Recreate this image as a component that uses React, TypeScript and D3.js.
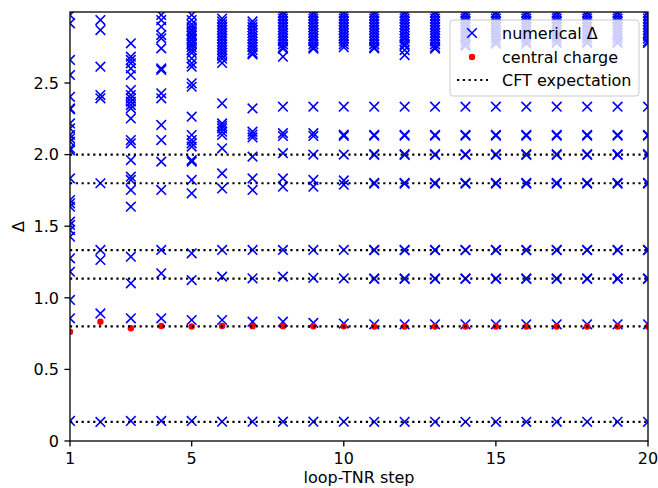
import React from "react";
import * as d3 from "d3";

// loop-TNR steps
const steps = [1, 2, 3, 4, 5, 6, 7, 8, 9, 10, 11, 12, 13, 14, 15, 16, 17, 18, 19, 20];

// numerical scaling dimensions for each step
const deltaStep1 = [2.975, 2.917, 2.661, 2.556, 2.404, 2.323, 2.316, 2.218, 2.183, 2.137, 2.114, 2.09, 2.044, 2.03, 1.834, 1.683, 1.66, 1.636, 1.532, 1.509, 1.473, 1.427, 1.276, 1.182, 0.985, 0.857, 0.14];
const deltaStep2 = [2.94, 2.87, 2.614, 2.416, 2.393, 1.80, 1.334, 1.264, 0.891, 0.133];
const deltaStep3 = [2.777, 2.684, 2.661, 2.638, 2.602, 2.556, 2.451, 2.416, 2.393, 2.37, 2.346, 2.323, 2.253, 2.102, 2.079, 1.962, 1.846, 1.823, 1.753, 1.636, 1.287, 1.101, 0.857, 0.14];
const deltaStep4 = [2.975, 2.94, 2.893, 2.835, 2.812, 2.742, 2.602, 2.591, 2.428, 2.393, 2.207, 2.102, 1.951, 1.753, 1.334, 1.171, 0.857, 0.14];
const deltaStep5 = [2.975, 2.94, 2.91, 2.89, 2.87, 2.86, 2.84, 2.83, 2.81, 2.8, 2.78, 2.77, 2.75, 2.73, 2.71, 2.672, 2.638, 2.614, 2.498, 2.474, 2.265, 2.137, 2.102, 2.079, 2.056, 1.962, 1.951, 1.823, 1.73, 1.311, 1.124, 0.845, 0.14];
const deltaStep6 = [2.95, 2.93, 2.91, 2.89, 2.87, 2.85, 2.83, 2.81, 2.79, 2.77, 2.75, 2.73, 2.71, 2.69, 2.67, 2.64, 2.358, 2.218, 2.2, 2.183, 2.16, 2.137, 2.044, 1.869, 1.764, 1.334, 1.148, 0.845, 0.135];
const deltaStep7 = [2.93, 2.91, 2.89, 2.87, 2.85, 2.83, 2.81, 2.79, 2.77, 2.75, 2.73, 2.71, 2.7, 2.323, 2.16, 2.14, 2.12, 1.986, 1.834, 1.753, 1.334, 1.136, 0.833, 0.135];
const deltaStep8 = [2.99, 2.97, 2.95, 2.93, 2.91, 2.89, 2.87, 2.85, 2.83, 2.81, 2.79, 2.77, 2.75, 2.74, 2.684, 2.335, 2.15, 2.13, 2.01, 1.834, 1.776, 1.334, 1.148, 0.833, 0.135];
const deltaStep9 = [2.99, 2.97, 2.95, 2.93, 2.91, 2.89, 2.87, 2.85, 2.83, 2.81, 2.79, 2.77, 2.75, 2.74, 2.335, 2.15, 2.13, 2.0, 1.823, 1.776, 1.334, 1.14, 0.825, 0.135];
const deltaStep10 = [2.99, 2.97, 2.95, 2.93, 2.91, 2.89, 2.87, 2.85, 2.83, 2.81, 2.79, 2.77, 2.75, 2.335, 2.14, 2.13, 2.0, 1.82, 1.79, 1.334, 1.136, 0.82, 0.135];
const deltaStep11 = [2.99, 2.97, 2.95, 2.93, 2.91, 2.89, 2.87, 2.85, 2.83, 2.81, 2.79, 2.77, 2.75, 2.742, 2.335, 2.138, 2.132, 2.003, 1.998, 1.803, 1.797, 1.334, 1.333, 1.135, 1.132, 0.815, 0.134];
const deltaStep12 = [2.99, 2.97, 2.95, 2.93, 2.91, 2.89, 2.87, 2.85, 2.83, 2.81, 2.79, 2.77, 2.76, 2.73, 2.695, 2.335, 2.138, 2.132, 2.003, 1.998, 1.803, 1.797, 1.334, 1.333, 1.135, 1.132, 0.815, 0.134];
const deltaStep13 = [2.99, 2.97, 2.95, 2.93, 2.91, 2.89, 2.87, 2.85, 2.83, 2.81, 2.79, 2.77, 2.75, 2.74, 2.335, 2.138, 2.132, 2.003, 1.998, 1.803, 1.797, 1.334, 1.333, 1.135, 1.132, 0.815, 0.134];
const deltaStep14 = [2.99, 2.97, 2.95, 2.93, 2.91, 2.89, 2.87, 2.85, 2.83, 2.81, 2.79, 2.77, 2.76, 2.335, 2.138, 2.132, 2.003, 1.998, 1.803, 1.797, 1.334, 1.333, 1.135, 1.132, 0.815, 0.134];
const deltaStep15 = [2.99, 2.97, 2.95, 2.93, 2.91, 2.89, 2.87, 2.85, 2.83, 2.81, 2.79, 2.775, 2.335, 2.138, 2.132, 2.003, 1.998, 1.803, 1.797, 1.334, 1.333, 1.135, 1.132, 0.815, 0.134];
const deltaStep16 = [2.99, 2.97, 2.95, 2.93, 2.91, 2.89, 2.87, 2.85, 2.83, 2.81, 2.79, 2.775, 2.335, 2.138, 2.132, 2.003, 1.998, 1.803, 1.797, 1.334, 1.333, 1.135, 1.132, 0.815, 0.134];
const deltaStep17 = [2.99, 2.97, 2.95, 2.93, 2.91, 2.89, 2.87, 2.85, 2.83, 2.81, 2.79, 2.78, 2.335, 2.138, 2.132, 2.003, 1.998, 1.803, 1.797, 1.334, 1.333, 1.135, 1.132, 0.815, 0.134];
const deltaStep18 = [2.99, 2.97, 2.95, 2.93, 2.91, 2.89, 2.87, 2.85, 2.83, 2.81, 2.79, 2.78, 2.335, 2.138, 2.132, 2.003, 1.998, 1.803, 1.797, 1.334, 1.333, 1.135, 1.132, 0.815, 0.134];
const deltaStep19 = [2.99, 2.97, 2.95, 2.93, 2.91, 2.89, 2.87, 2.85, 2.83, 2.81, 2.79, 2.78, 2.335, 2.138, 2.132, 2.003, 1.998, 1.803, 1.797, 1.334, 1.333, 1.135, 1.132, 0.815, 0.134];
const deltaStep20 = [2.99, 2.97, 2.95, 2.93, 2.91, 2.89, 2.87, 2.85, 2.83, 2.81, 2.79, 2.78, 2.335, 2.138, 2.132, 2.003, 1.998, 1.803, 1.797, 1.334, 1.333, 1.135, 1.132, 0.815, 0.134];

const numericalDelta = [
  deltaStep1, deltaStep2, deltaStep3, deltaStep4, deltaStep5,
  deltaStep6, deltaStep7, deltaStep8, deltaStep9, deltaStep10,
  deltaStep11, deltaStep12, deltaStep13, deltaStep14, deltaStep15,
  deltaStep16, deltaStep17, deltaStep18, deltaStep19, deltaStep20,
];

// central charge at each step
const centralCharge = [0.763, 0.833, 0.787, 0.803, 0.8, 0.803, 0.802, 0.802, 0.801, 0.801, 0.8, 0.8, 0.8, 0.8, 0.8, 0.8, 0.8, 0.8, 0.8, 0.8];

// CFT expectation lines
const cftExpectation = [2 / 15, 0.8, 17 / 15, 4 / 3, 1.8, 2.0];

const xTicks = [1, 5, 10, 15, 20];
const yTicks = [0, 0.5, 1.0, 1.5, 2.0, 2.5];

const W = 658;
const H = 488;
const L = 70, R = 648, T = 12, B = 441;
const FONT = "'DejaVu Sans', sans-serif";
const FS = 16;

export default function App() {
  const x = d3.scaleLinear().domain([1, 20]).range([L, R]);
  const y = d3.scaleLinear().domain([0, 2.996]).range([B, T]);
  const s = 4.8;

  const cross = (cx: number, cy: number, key: string) => (
    <path key={key} d={`M${cx - s},${cy - s}L${cx + s},${cy + s}M${cx - s},${cy + s}L${cx + s},${cy - s}`} stroke="#0000ff" strokeWidth={1.6} fill="none" />
  );

  return (
    <svg width={W} height={H} style={{ position: "absolute", left: 0, top: 0, background: "#fff" }} fontFamily={FONT}>
      <defs>
        <clipPath id="plotclip">
          <rect x={L} y={T} width={R - L} height={B - T} />
        </clipPath>
      </defs>
      <rect x={0} y={0} width={W} height={H} fill="#fff" />
      <g clipPath="url(#plotclip)">
        {numericalDelta.map((vals, i) =>
          vals.map((v, j) => cross(x(steps[i]), y(v), `d${i}-${j}`))
        )}
        {centralCharge.map((c, i) => (
          <circle key={`c${i}`} cx={x(steps[i])} cy={y(c)} r={3.2} fill="#ff0000" />
        ))}
        {cftExpectation.map((v, i) => (
          <line key={`l${i}`} x1={L} x2={R} y1={y(v)} y2={y(v)} stroke="#000" strokeWidth={2.2} strokeDasharray="2.2,3.6" />
        ))}
      </g>
      {/* spines */}
      <rect x={L} y={T} width={R - L} height={B - T} fill="none" stroke="#000" strokeWidth={1.3} />
      {/* x ticks */}
      {xTicks.map((t) => (
        <g key={`xt${t}`}>
          <line x1={x(t)} x2={x(t)} y1={B} y2={B + 5.6} stroke="#000" strokeWidth={1.3} />
          <text x={x(t)} y={B + 23} textAnchor="middle" fontSize={FS} fill="#000">{t}</text>
        </g>
      ))}
      {yTicks.map((t) => (
        <g key={`yt${t}`}>
          <line x1={L - 5.6} x2={L} y1={y(t)} y2={y(t)} stroke="#000" strokeWidth={1.3} />
          <text x={L - 11} y={y(t)} dy="0.36em" textAnchor="end" fontSize={FS} fill="#000">{t === 0 ? "0" : t.toFixed(1)}</text>
        </g>
      ))}
      <text x={(L + R) / 2} y={483} textAnchor="middle" fontSize={FS} fill="#000">loop-TNR step</text>
      <text transform={`translate(24,${(T + B) / 2}) rotate(-90)`} textAnchor="middle" fontSize={FS} fill="#000">Δ</text>
      {/* legend */}
      <g>
        <rect x={450} y={20} width={189} height={76} rx={3} fill="#fff" fillOpacity={0.8} stroke="#cccccc" strokeWidth={1} />
        {cross(472, 33, "leg-x")}
        <text x={502} y={33} dy="0.36em" fontSize={FS} fill="#000">numerical Δ</text>
        <circle cx={472} cy={57} r={3.2} fill="#ff0000" />
        <text x={502} y={57} dy="0.36em" fontSize={FS} fill="#000">central charge</text>
        <line x1={457} x2={488} y1={80} y2={80} stroke="#000" strokeWidth={2.2} strokeDasharray="2.2,3.6" />
        <text x={502} y={80} dy="0.36em" fontSize={FS} fill="#000">CFT expectation</text>
      </g>
    </svg>
  );
}
